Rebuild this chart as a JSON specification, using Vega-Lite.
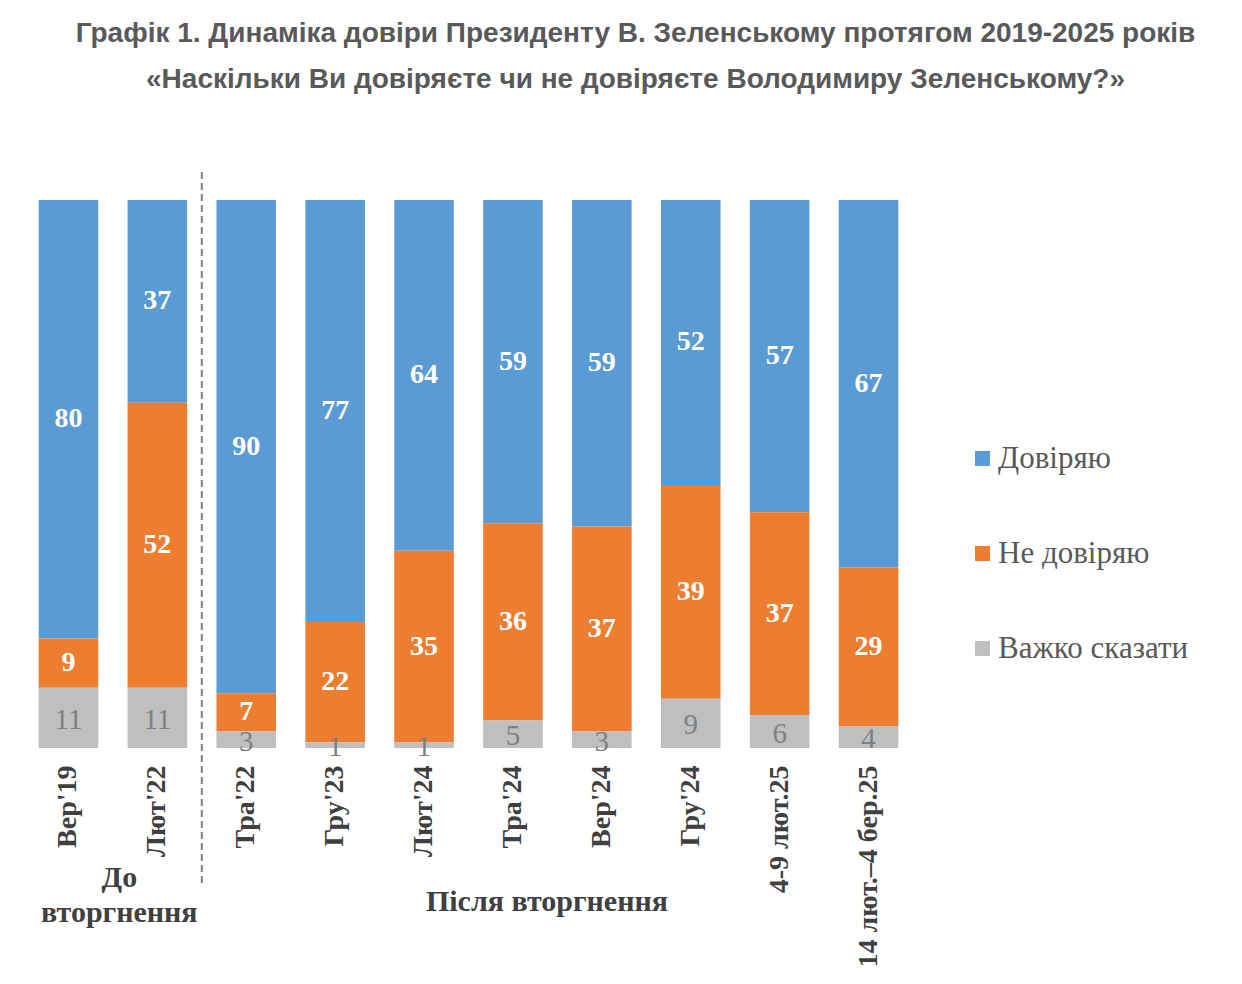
{
  "$schema": "https://vega.github.io/schema/vega-lite/v6.json",
  "autosize": {"type": "none"},
  "padding": {"left": 24, "top": 200, "right": 329, "bottom": 236},
  "width": 889,
  "height": 548,
  "background": "white",
  "title": {
    "text": ["Графік 1. Динаміка довіри Президенту В. Зеленському протягом 2019-2025 років", "«Наскільки Ви довіряєте чи не довіряєте Володимиру Зеленському?»"],
    "anchor": "middle",
    "dx": 167,
    "offset": 77,
    "lineHeight": 46,
    "font": "Liberation Sans",
    "fontWeight": "bold",
    "fontSize": 28,
    "color": "#595959"
  },
  "layer": [
    {
      "data": {
        "values": [
          {"period": "Вер'19", "answer": "Довіряю", "pct": 80},
          {"period": "Вер'19", "answer": "Не довіряю", "pct": 9},
          {"period": "Вер'19", "answer": "Важко сказати", "pct": 11},
          {"period": "Лют'22", "answer": "Довіряю", "pct": 37},
          {"period": "Лют'22", "answer": "Не довіряю", "pct": 52},
          {"period": "Лют'22", "answer": "Важко сказати", "pct": 11},
          {"period": "Тра'22", "answer": "Довіряю", "pct": 90},
          {"period": "Тра'22", "answer": "Не довіряю", "pct": 7},
          {"period": "Тра'22", "answer": "Важко сказати", "pct": 3},
          {"period": "Гру'23", "answer": "Довіряю", "pct": 77},
          {"period": "Гру'23", "answer": "Не довіряю", "pct": 22},
          {"period": "Гру'23", "answer": "Важко сказати", "pct": 1},
          {"period": "Лют'24", "answer": "Довіряю", "pct": 64},
          {"period": "Лют'24", "answer": "Не довіряю", "pct": 35},
          {"period": "Лют'24", "answer": "Важко сказати", "pct": 1},
          {"period": "Тра'24", "answer": "Довіряю", "pct": 59},
          {"period": "Тра'24", "answer": "Не довіряю", "pct": 36},
          {"period": "Тра'24", "answer": "Важко сказати", "pct": 5},
          {"period": "Вер'24", "answer": "Довіряю", "pct": 59},
          {"period": "Вер'24", "answer": "Не довіряю", "pct": 37},
          {"period": "Вер'24", "answer": "Важко сказати", "pct": 3},
          {"period": "Гру'24", "answer": "Довіряю", "pct": 52},
          {"period": "Гру'24", "answer": "Не довіряю", "pct": 39},
          {"period": "Гру'24", "answer": "Важко сказати", "pct": 9},
          {"period": "4-9 лют.25", "answer": "Довіряю", "pct": 57},
          {"period": "4-9 лют.25", "answer": "Не довіряю", "pct": 37},
          {"period": "4-9 лют.25", "answer": "Важко сказати", "pct": 6},
          {"period": "14 лют.–4 бер.25", "answer": "Довіряю", "pct": 67},
          {"period": "14 лют.–4 бер.25", "answer": "Не довіряю", "pct": 29},
          {"period": "14 лют.–4 бер.25", "answer": "Важко сказати", "pct": 4}
        ]
      },
      "transform": [
        {"calculate": "indexof(['Важко сказати', 'Не довіряю', 'Довіряю'], datum.answer)", "as": "rank"},
        {"stack": "pct", "groupby": ["period"], "sort": [{"field": "rank"}], "offset": "normalize", "as": ["lo", "hi"]},
        {"calculate": "(datum.lo + datum.hi) / 2", "as": "mid"}
      ],
      "encoding": {
        "x": {
          "field": "period",
          "type": "nominal",
          "sort": ["Вер'19", "Лют'22", "Тра'22", "Гру'23", "Лют'24", "Тра'24", "Вер'24", "Гру'24", "4-9 лют.25", "14 лют.–4 бер.25"],
          "scale": {
            "domain": ["Вер'19", "Лют'22", "Тра'22", "Гру'23", "Лют'24", "Тра'24", "Вер'24", "Гру'24", "4-9 лют.25", "14 лют.–4 бер.25"],
            "paddingInner": 0.33,
            "paddingOuter": 0.165
          },
          "axis": {
            "title": null,
            "domain": false,
            "ticks": false,
            "labelAngle": -90,
            "labelPadding": 17,
            "labelFont": "Liberation Serif",
            "labelFontWeight": "bold",
            "labelFontSize": 28,
            "labelColor": "#404040",
            "labelLimit": 400
          }
        }
      },
      "layer": [
        {
          "mark": {"type": "bar"},
          "encoding": {
            "y": {"field": "lo", "type": "quantitative", "scale": {"domain": [0, 1], "nice": false}, "axis": null},
            "y2": {"field": "hi"},
            "color": {
              "field": "answer",
              "type": "nominal",
              "scale": {"domain": ["Довіряю", "Не довіряю", "Важко сказати"], "range": ["#5B9BD5", "#ED7D31", "#BFBFBF"]},
              "legend": {
                "title": null,
                "orient": "none",
                "legendX": 943,
                "legendY": 243,
                "symbolType": "square",
                "symbolSize": 225,
                "symbolStrokeWidth": 0,
                "labelFont": "Liberation Serif",
                "labelFontSize": 31,
                "labelColor": "#595959",
                "labelOffset": 0,
                "rowPadding": 63,
                "labelLimit": 400
              }
            }
          }
        },
        {
          "transform": [{"filter": "datum.answer !== 'Важко сказати'"}],
          "mark": {"type": "text", "font": "Liberation Serif", "fontWeight": "bold", "fontSize": 28, "color": "white", "baseline": "middle"},
          "encoding": {
            "y": {"field": "mid", "type": "quantitative"},
            "text": {"field": "pct", "type": "quantitative"}
          }
        },
        {
          "transform": [{"filter": "datum.answer === 'Важко сказати'"}],
          "mark": {"type": "text", "font": "Liberation Serif", "fontSize": 29, "color": "#7F7F7F", "baseline": "middle", "dy": 2},
          "encoding": {
            "y": {"field": "mid", "type": "quantitative"},
            "text": {"field": "pct", "type": "quantitative"}
          }
        }
      ]
    },
    {
      "data": {"values": [{"period": "Лют'22", "top": 1.051, "bottom": -0.25}]},
      "mark": {"type": "rule", "color": "#7F7F7F", "strokeWidth": 2, "strokeDash": [7, 4]},
      "encoding": {
        "x": {"field": "period", "type": "nominal", "bandPosition": 1.246},
        "y": {"field": "top", "type": "quantitative"},
        "y2": {"field": "bottom"}
      }
    },
    {
      "data": {"values": [{"period": "Лют'22", "label": "До\nвторгнення", "level": -0.237}]},
      "mark": {"type": "text", "lineBreak": "\n", "lineHeight": 35, "dx": -38, "font": "Liberation Serif", "fontWeight": "bold", "fontSize": 30, "color": "#404040", "baseline": "middle"},
      "encoding": {
        "x": {"field": "period", "type": "nominal"},
        "y": {"field": "level", "type": "quantitative"},
        "text": {"field": "label"}
      }
    },
    {
      "data": {"values": [{"period": "Тра'24", "label": "Після вторгнення", "level": -0.281}]},
      "mark": {"type": "text", "dx": 34, "font": "Liberation Serif", "fontWeight": "bold", "fontSize": 30, "color": "#404040", "baseline": "middle"},
      "encoding": {
        "x": {"field": "period", "type": "nominal"},
        "y": {"field": "level", "type": "quantitative"},
        "text": {"field": "label"}
      }
    }
  ],
  "config": {
    "view": {"stroke": null},
    "axis": {"grid": false}
  }
}
